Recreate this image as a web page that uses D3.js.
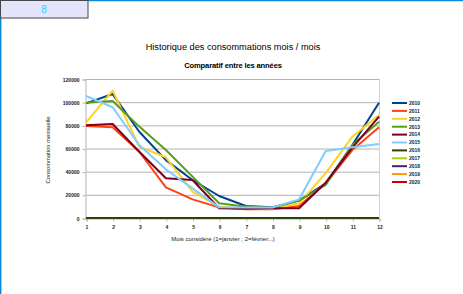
<!DOCTYPE html>
<html><head><meta charset="utf-8">
<script src="https://cdn.jsdelivr.net/npm/d3@7"></script>
<style>
html,body{margin:0;padding:0;background:#fff;}
svg{display:block;font-family:"Liberation Sans",Arial,sans-serif;}
</style></head>
<body>
<svg id="c" width="463" height="294"></svg>
<script>
const months = [1,2,3,4,5,6,7,8,9,10,11,12];
const years = ["2010","2011","2012","2013","2014","2015","2016","2017","2018","2019","2020"];
const colors = ["#004586","#ff420e","#ffd320","#579d1c","#7e0021","#83caff","#314004","#aecf00","#4b1f6f","#ff950e","#c5000b"];
const s2010 = [99000,107000,74500,50000,32800,19000,10400,9200,15000,30000,63000,99500];
const s2011 = [79400,78300,57200,26500,16100,9200,7500,7500,10400,30000,58700,78300];
const s2012 = [82300,110000,61500,52400,22700,9700,8000,8000,12700,38800,70200,89000];
const s2013 = [99500,101000,78900,58700,35700,12700,9700,8800,15000,28500,63000,83100];
const s2014 = [80000,81100,57200,34300,32800,8400,8000,8400,8400,30500,60700,87500];
const s2015 = [105300,95600,63000,42000,25600,9200,9000,9000,16100,57800,61000,63900];
const s2016 = [0,0,0,0,0,0,0,0,0,0,0,0];
const s2017 = [];
const s2018 = [];
const s2019 = [];
const s2020 = [];
const seriesValues = [s2010,s2011,s2012,s2013,s2014,s2015,s2016,s2017,s2018,s2019,s2020];
const yTicks = [0,20000,40000,60000,80000,100000,120000];

const svg = d3.select("#c");

// spreadsheet chrome
svg.append("rect").attr("x",0).attr("y",0).attr("width",463).attr("height",294).attr("fill","#fff");
svg.append("line").attr("x1",0).attr("x2",463).attr("y1",0.5).attr("y2",0.5).attr("stroke","#0a8ad8").attr("stroke-width",1.5);
svg.append("line").attr("x1",0.7).attr("x2",0.7).attr("y1",0).attr("y2",294).attr("stroke","#0a8ad8").attr("stroke-width",1.5);
svg.append("rect").attr("x",0.5).attr("y",0.5).attr("width",87.5).attr("height",17.5).attr("fill","#e4e4fb").attr("stroke","#44474c").attr("stroke-width",1);
svg.append("text").attr("x",44).attr("y",13).attr("text-anchor","middle").attr("font-size",10).attr("fill","#33ccff").text("8");

// titles
svg.append("text").attr("x",233).attr("y",50).attr("text-anchor","middle").attr("font-size",9.2).attr("fill","#000").text("Historique des consommations mois / mois");
svg.append("text").attr("x",233).attr("y",68).attr("text-anchor","middle").attr("font-size",7.6).attr("font-weight","bold").attr("fill","#000").attr("letter-spacing",-0.15).text("Comparatif entre les années");

const x = d3.scaleLinear().domain([1,12]).range([86,379]);
const y = d3.scaleLinear().domain([0,120000]).range([218,79]);

// gridlines
svg.append("g").selectAll("line").data(yTicks).join("line")
  .attr("x1",86).attr("x2",379).attr("y1",d=>y(d)+0.5).attr("y2",d=>y(d)+0.5)
  .attr("stroke","#b3b3b3").attr("stroke-width",1);
svg.append("line").attr("x1",379.5).attr("x2",379.5).attr("y1",79).attr("y2",218).attr("stroke","#d0d0d0");

// axes
const yAxis = svg.append("g").attr("transform","translate(85.5,0.5)")
  .call(d3.axisLeft(y).tickValues(yTicks).tickSize(3).tickFormat(d3.format("d")));
yAxis.select(".domain").attr("stroke","#b3b3b3");
yAxis.selectAll(".tick line").attr("stroke","#b3b3b3");
yAxis.selectAll("text").attr("font-size",5).attr("font-weight","bold").attr("fill","#222").attr("font-family","Liberation Sans, Arial, sans-serif");

const xAxis = svg.append("g").attr("transform","translate(0.5,218.5)")
  .call(d3.axisBottom(x).tickValues(months).tickSize(3).tickFormat(d3.format("d")));
xAxis.select(".domain").attr("stroke","#b3b3b3");
xAxis.selectAll(".tick line").attr("stroke","#b3b3b3");
xAxis.selectAll("text").attr("font-size",5).attr("font-weight","bold").attr("fill","#222").attr("font-family","Liberation Sans, Arial, sans-serif").attr("dy","0.9em");

// axis titles
svg.append("text").attr("transform","translate(50,150) rotate(-90)").attr("text-anchor","middle").attr("font-size",5.8).attr("fill","#222").text("Consommation mensuelle");
svg.append("text").attr("x",223).attr("y",241).attr("text-anchor","middle").attr("font-size",6).attr("fill","#222").text("Mois considéré (1=janvier ; 2=février...)");

// lines
const line = d3.line().x((d,i)=>x(months[i])).y(d=>y(d));
seriesValues.forEach((vals,k)=>{
  if(!vals.length) return;
  svg.append("path").datum(vals).attr("d",line).attr("fill","none")
    .attr("stroke",colors[k]).attr("stroke-width",2).attr("stroke-linejoin","round");
});

// legend
const lg = svg.append("g");
years.forEach((yr,i)=>{
  const yy = 103 + i*7.9;
  lg.append("line").attr("x1",392).attr("x2",407).attr("y1",yy).attr("y2",yy).attr("stroke",colors[i]).attr("stroke-width",2);
  lg.append("text").attr("x",409).attr("y",yy+1.8).attr("font-size",5).attr("font-weight","bold").attr("fill","#222").text(yr);
});
</script>
</body></html>
